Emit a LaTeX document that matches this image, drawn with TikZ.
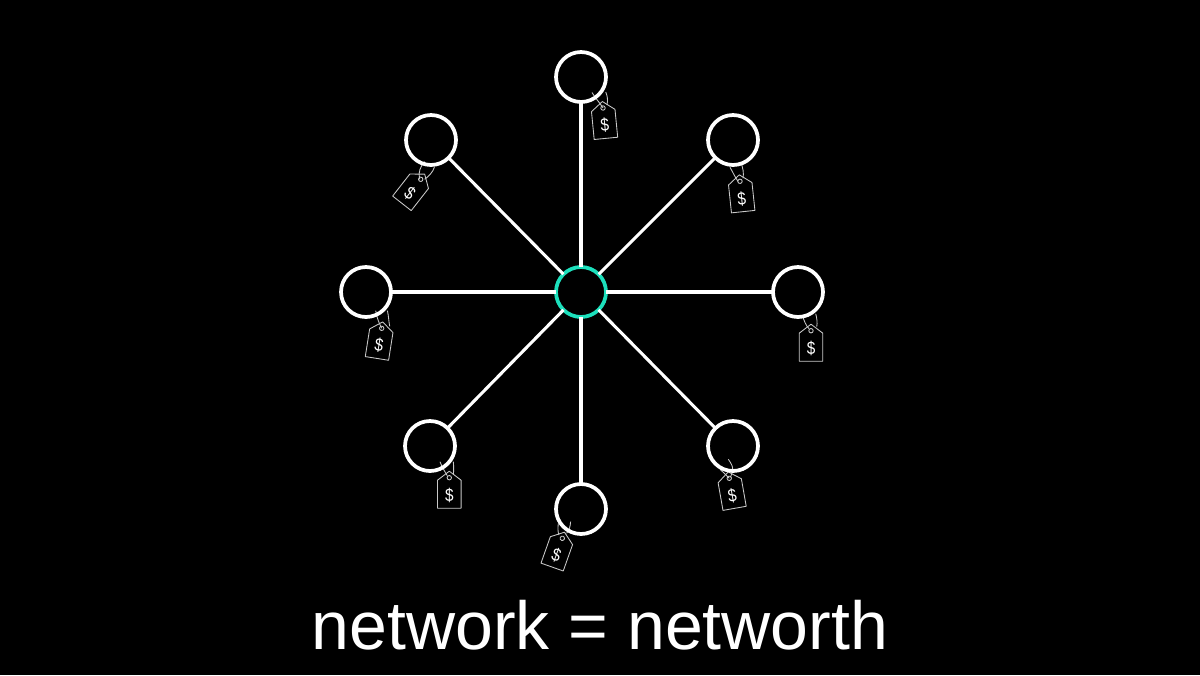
\documentclass[tikz,border=0pt]{standalone}
\usepackage{fontspec}
\setmainfont{Liberation Sans}
\definecolor{bgcol}{HTML}{000000}
\definecolor{ringteal}{HTML}{1CE0BC}
\definecolor{tagline}{HTML}{C8C8C8}
\tikzset{
  peer/.style={circle,draw=white,line width=2.8pt,minimum size=37.5pt,inner sep=0pt,outer sep=0pt},
  hub/.style={peer,draw=ringteal},
  link/.style={draw=white,line width=2.3pt},
  tagbody/.style={draw=tagline,line width=0.65pt,line join=round},
  tagstring/.style={draw=tagline,line width=0.65pt},
  dollar/.style={text=white,font=\fontsize{13.5}{15}\selectfont,inner sep=0pt,xscale=0.85,transform shape},
}
% #1 name, #2 hole position, #3 rotation, #4 string paths relative to the hole
\newcommand{\pricetag}[4]{%
  \begin{scope}[shift={(#2)}]
    #4
    \begin{scope}[rotate=#3]
      \draw[tagbody] (0,-6.5) -- (11.8,2.5) -- (11.8,30.5) -- (-11.8,30.5) -- (-11.8,2.5) -- cycle;
      \draw[tagbody] (0,0) circle[radius=2.2];
      \node[dollar] (#1) at (0,17.5) {\$};
    \end{scope}
  \end{scope}}
\begin{document}
\begin{tikzpicture}[x=0.75pt,y=-0.75pt]
\useasboundingbox (0,0) rectangle (1200,675);
\fill[bgcol] (0,0) rectangle (1200,675);

\pricetag{t1}{603,108}{5.5}{
  \draw[tagstring] (-11,-15.5) .. controls (-7,-9) and (-3,-5) .. (0,0);
  \draw[tagstring] (2.7,-16) .. controls (4.5,-12) and (5,-8) .. (4,-3);}
\pricetag{t2}{420.7,179.3}{-38}{
  \draw[tagstring] (3.7,-17.7) .. controls (0,-13) and (-3,-7) .. (-1,0);
  \draw[tagstring] (13.7,-12) .. controls (12,-7) and (8,-3) .. (4,0);}
\pricetag{t3}{740,181.3}{6}{
  \draw[tagstring] (-10,-14) .. controls (-7,-9) and (-5,-4) .. (-2,0);
  \draw[tagstring] (0.7,-19) .. controls (3,-14) and (4,-8) .. (3,-3);}
\pricetag{t4}{381.7,328.3}{-9}{
  \draw[tagstring] (-6,-17.7) .. controls (-5,-11) and (-3,-6) .. (0,0);
  \draw[tagstring] (5.7,-17.7) .. controls (7,-12) and (7,-7) .. (8,-2);}
\pricetag{t5}{811,330.7}{0}{
  \draw[tagstring] (-8.7,-15.7) .. controls (-7,-10) and (-5,-5) .. (-2,-2);
  \draw[tagstring] (4.7,-17) .. controls (6,-12) and (6.5,-8) .. (5.7,-4);}
\pricetag{t6}{449.3,477.7}{0}{
  \draw[tagstring] (-9.3,-16) .. controls (-7.5,-11) and (-5,-7) .. (-2,-2);
  \draw[tagstring] (4,-16) .. controls (4.5,-11) and (4.5,-7) .. (4,-3);}
\pricetag{t7}{729.3,478.3}{10}{
  \draw[tagstring] (-1,-19) .. controls (2,-15) and (4,-11) .. (3.3,-8) .. controls (3,-5) and (2,-3) .. (1,-1);
  \draw[tagstring] (-9.3,-9) .. controls (-6,-6) and (-3,-3) .. (0,0);}
\pricetag{t8}{562.3,538.3}{-19.5}{
  \draw[tagstring] (8.3,-16.7) .. controls (8,-12) and (7,-8) .. (4.3,-5);
  \draw[tagstring] (-4,-15) .. controls (-4.5,-10) and (-4.5,-6) .. (-3.3,-3.3);}

\node[hub] (c) at (581,292) {};
\node[peer] (n) at (581,77) {};
\node[peer] (nw) at (431,140) {};
\node[peer] (ne) at (733,140) {};
\node[peer] (w) at (366,292) {};
\node[peer] (e) at (798,292) {};
\node[peer] (sw) at (430,446) {};
\node[peer] (se) at (733,446) {};
\node[peer] (s) at (581,509) {};
\foreach \p in {n,nw,ne,w,e,sw,se,s} \draw[link] (c) -- (\p);

\node[text=white,anchor=base,inner sep=0pt,font=\fontsize{51}{54}\selectfont] (caption) at (600,649.5) {network = networth};
\end{tikzpicture}
\end{document}
